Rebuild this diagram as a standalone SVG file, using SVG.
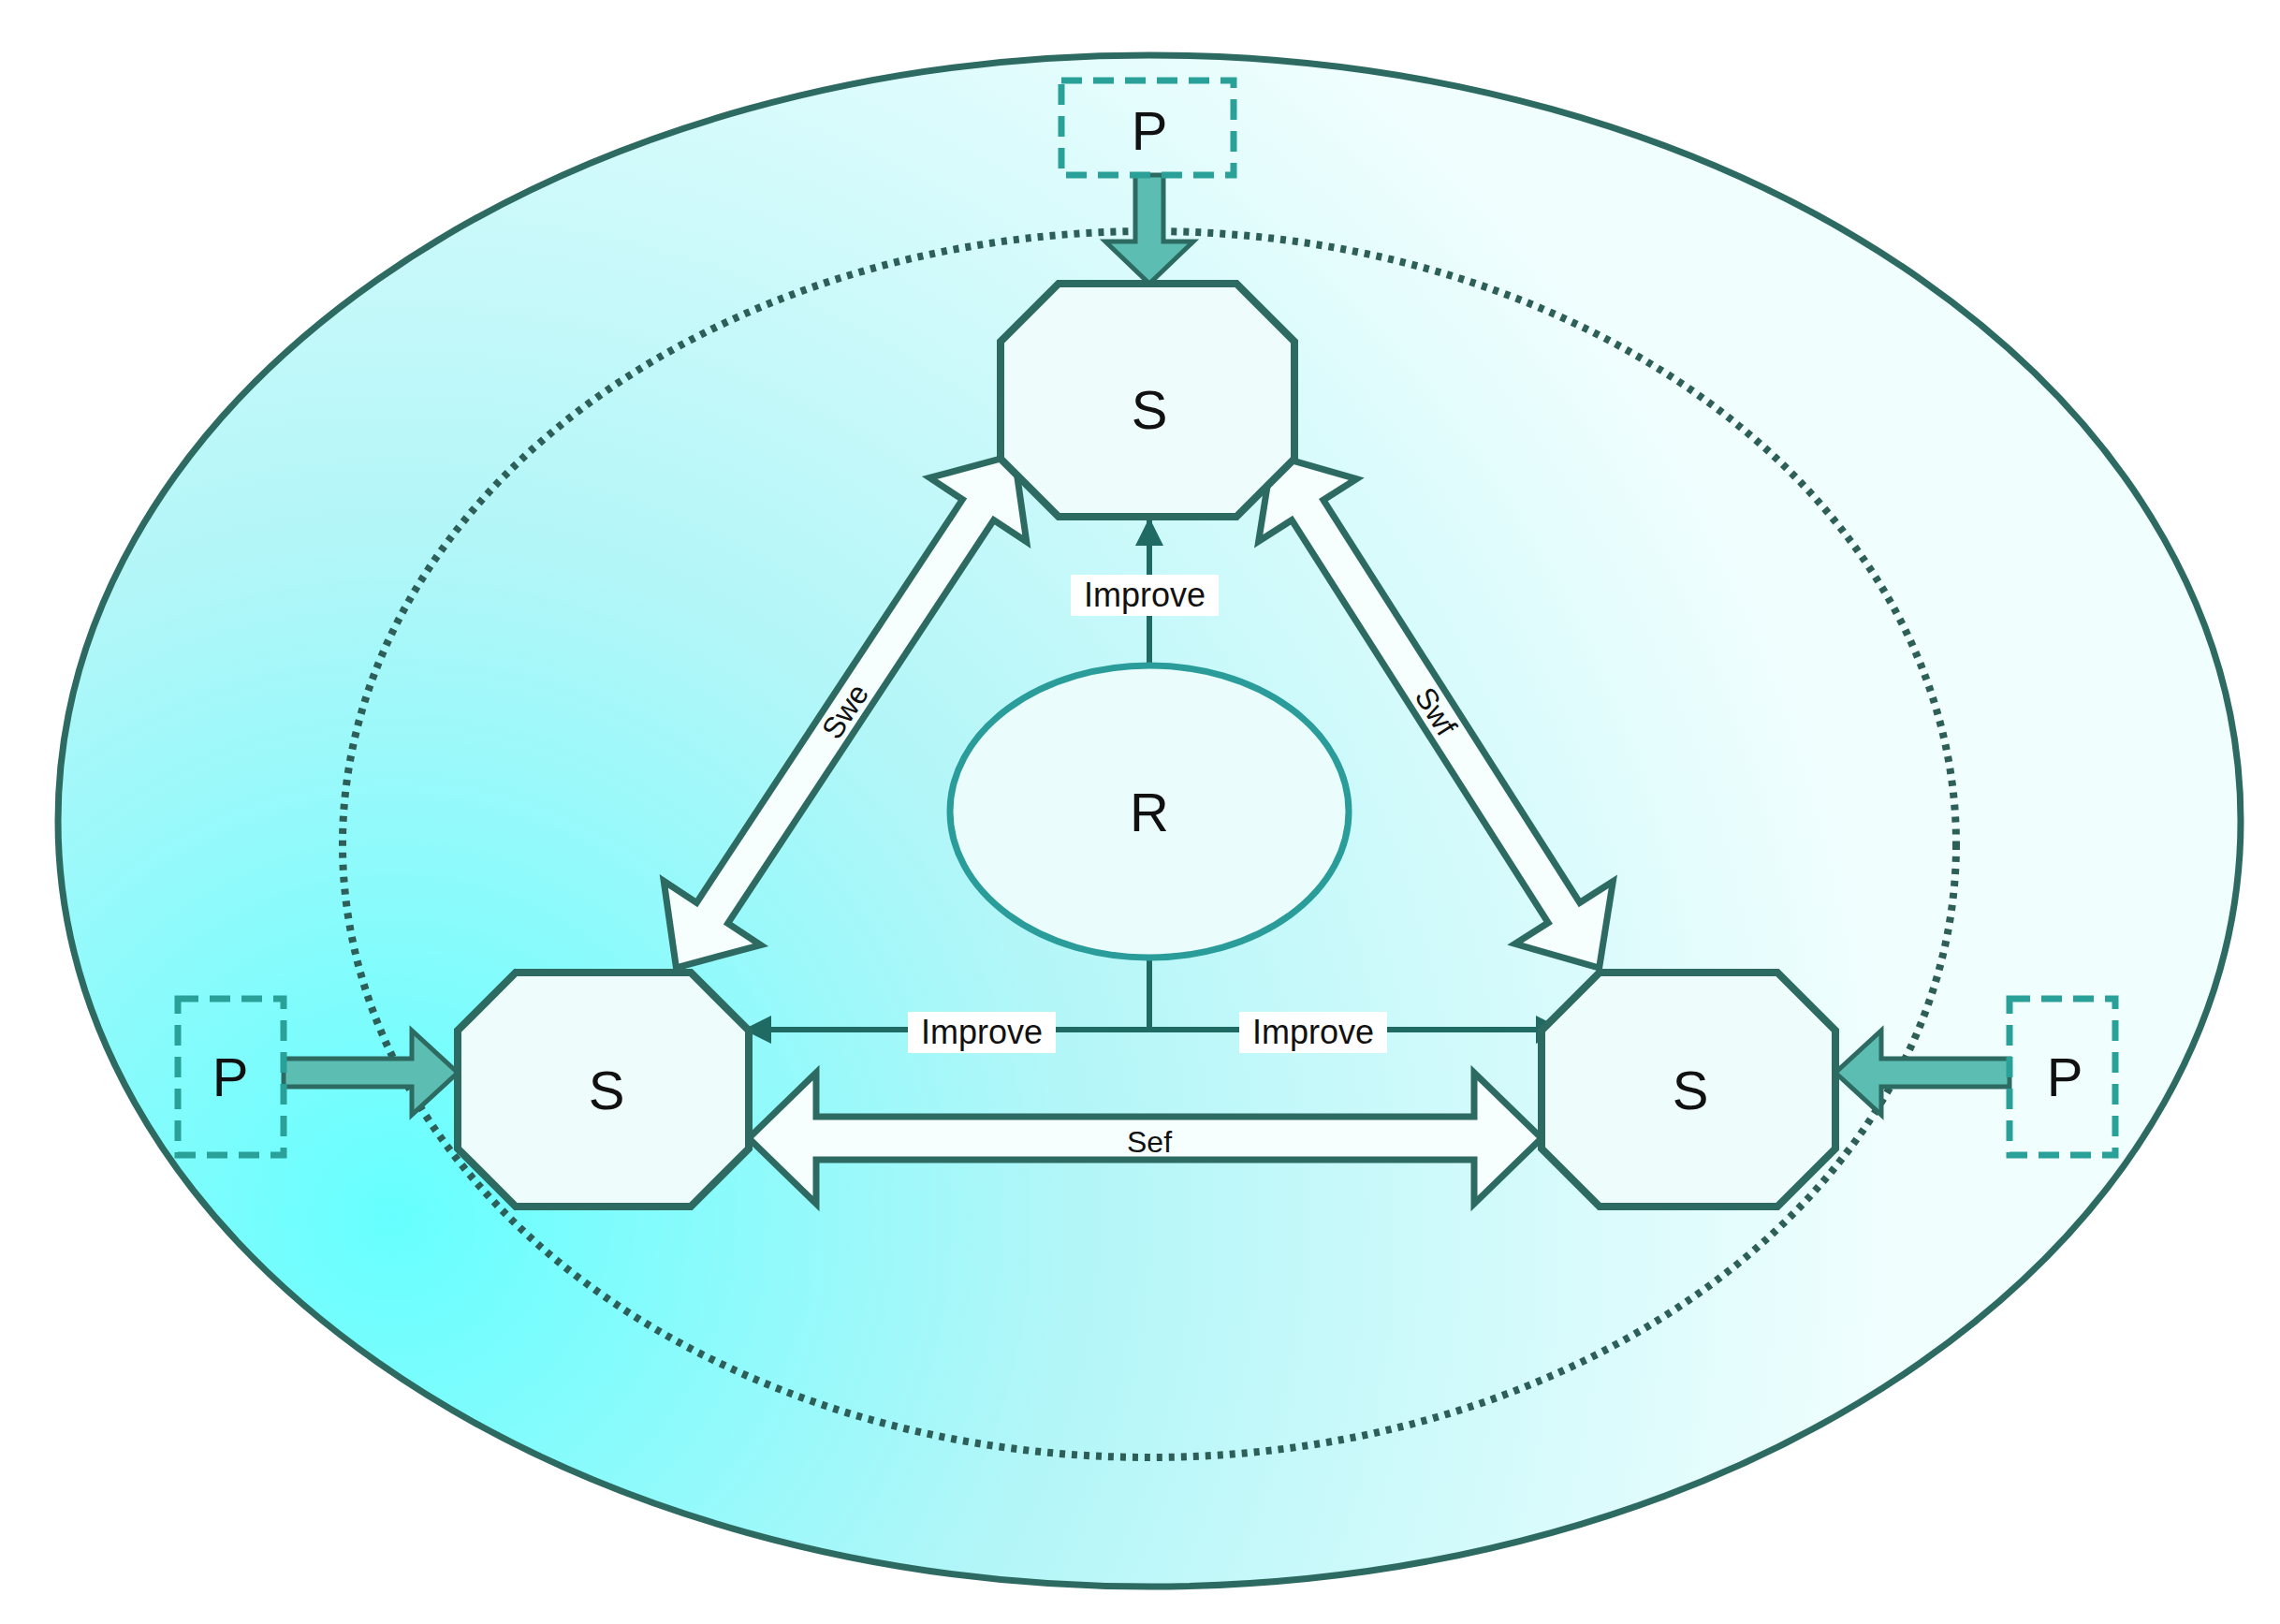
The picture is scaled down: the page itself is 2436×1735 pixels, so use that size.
<svg xmlns="http://www.w3.org/2000/svg" width="2436" height="1735" viewBox="0 0 2436 1735">
<defs>
<radialGradient id="bg" cx="420" cy="1300" r="1600" gradientUnits="userSpaceOnUse">
<stop offset="0" stop-color="#66ffff"/><stop offset="0.45" stop-color="#b2f6f8"/><stop offset="1" stop-color="#f0fefe"/>
</radialGradient>
<marker id="ah" viewBox="0 0 10 10" refX="9" refY="5" markerWidth="5" markerHeight="5" orient="auto"><path d="M0,0 L10,5 L0,10 Z" fill="#1f6b64"/></marker>
<style>
.oct{fill:#eefcfc;stroke:#2d6b62;stroke-width:8}
.t{font-family:"Liberation Sans",Arial,sans-serif;fill:#111;text-anchor:middle}
.big{font-size:58px}
.lab{font-size:36px}
.pbox{fill:none;stroke:#2aa198;stroke-width:7;stroke-dasharray:22 12}
.dbl{fill:#f6fefe;stroke:#2d6b62;stroke-width:7;stroke-linejoin:miter}
.pa{fill:#5cbdb2;stroke:#2d6b62;stroke-width:5}
.imp{stroke:#1f6b64;stroke-width:6;fill:none}
</style>
</defs>
<ellipse cx="1228" cy="877" rx="1166" ry="818" fill="url(#bg)" stroke="#2d6b62" stroke-width="7"/>
<ellipse cx="1228" cy="902" rx="862" ry="655" fill="none" stroke="#2d5e58" stroke-width="8" stroke-dasharray="6 7"/>
<g id="connectors">
<g transform="translate(903,760) rotate(-56.6)">
<path class="dbl" d="M-328,0 L-258,-62 L-258,-20 L258,-20 L258,-62 L328,0 L258,62 L258,20 L-258,20 L-258,62 Z"/>
<text class="t" x="0" y="11" font-size="32">Swe</text></g>
<g transform="translate(1534,760) rotate(57.5)">
<path class="dbl" d="M-325,0 L-255,-62 L-255,-20 L255,-20 L255,-62 L325,0 L255,62 L255,20 L-255,20 L-255,62 Z"/>
<text class="t" x="0" y="11" font-size="32">Swf</text></g>
<path class="dbl" d="M800,1216 L872,1146 L872,1193 L1575,1193 L1575,1146 L1647,1216 L1575,1286 L1575,1239 L872,1239 L872,1286 Z"/>
<text class="t" x="1228" y="1231" font-size="32">Sef</text>
<line class="imp" x1="1228" y1="711" x2="1228" y2="556" marker-end="url(#ah)"/>
<polyline class="imp" points="1228,1023 1228,1100"/>
<line class="imp" x1="1228" y1="1100" x2="797" y2="1100" marker-end="url(#ah)"/>
<line class="imp" x1="1228" y1="1100" x2="1668" y2="1100" marker-end="url(#ah)"/>
<rect x="1144" y="614" width="158" height="44" fill="#fff"/>
<text class="t lab" x="1223" y="648">Improve</text>
<rect x="970" y="1081" width="158" height="44" fill="#fff"/>
<text class="t lab" x="1049" y="1115">Improve</text>
<rect x="1324" y="1081" width="158" height="44" fill="#fff"/>
<text class="t lab" x="1403" y="1115">Improve</text>
<path class="pa" d="M1213,187 L1243,187 L1243,258 L1275,258 L1228,303 L1181,258 L1213,258 Z"/>
<path class="pa" d="M303,1131 L440,1131 L440,1101 L489,1146 L440,1191 L440,1161 L303,1161 Z"/>
<path class="pa" d="M2147,1131 L2010,1131 L2010,1101 L1961,1146 L2010,1191 L2010,1161 L2147,1161 Z"/>
</g>
<g id="R"><ellipse cx="1228" cy="867" rx="213" ry="156" fill="#eafcfc" stroke="#2a9d9a" stroke-width="7"/><text class="t big" x="1228" y="888">R</text></g>
<g id="S-top"><path class="oct" d="M1131,303 L1321,303 L1383,365 L1383,490 L1321,552 L1131,552 L1069,490 L1069,365 Z"/><text class="t big" x="1228" y="458">S</text></g>
<g id="S-left"><path class="oct" d="M551,1039 L738,1039 L800,1101 L800,1227 L738,1289 L551,1289 L489,1227 L489,1101 Z"/><text class="t big" x="648" y="1185">S</text></g>
<g id="S-right"><path class="oct" d="M1709,1039 L1899,1039 L1961,1101 L1961,1227 L1899,1289 L1709,1289 L1647,1227 L1647,1101 Z"/><text class="t big" x="1806" y="1185">S</text></g>
<g id="P-top"><rect class="pbox" x="1134" y="86" width="184" height="101"/><text class="t big" x="1228" y="160">P</text></g>
<g id="P-left"><rect class="pbox" x="190" y="1067" width="113" height="167"/><text class="t big" x="246" y="1171">P</text></g>
<g id="P-right"><rect class="pbox" x="2147" y="1067" width="113" height="167"/><text class="t big" x="2206" y="1171">P</text></g>
</svg>
